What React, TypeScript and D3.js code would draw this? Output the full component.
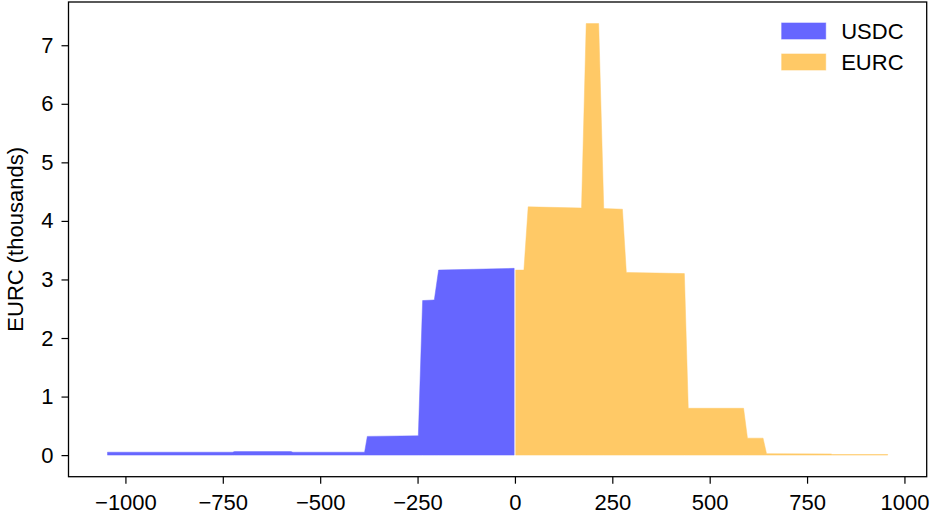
import React, { useEffect, useRef } from "react";
import * as d3 from "d3";

// price offset vs. depth (thousands)
const usdcPrice = [-1046, -725, -720, -575, -570, -386, -379, -248, -237, -207, -196, -2];
const usdcAmount = [0.05, 0.05, 0.06, 0.06, 0.05, 0.05, 0.32, 0.33, 2.64, 2.65, 3.16, 3.19];

const eurcPrice = [2, 23, 34, 171, 183, 215, 228, 276, 286, 435, 445, 587, 597, 637, 646, 811, 815, 957];
const eurcAmount = [3.16, 3.16, 4.24, 4.22, 7.37, 7.37, 4.21, 4.2, 3.12, 3.1, 0.8, 0.8, 0.29, 0.29, 0.025, 0.02, 0.01, 0.01];

const xTicks = [-1000, -750, -500, -250, 0, 250, 500, 750, 1000];
const yTicks = [0, 1, 2, 3, 4, 5, 6, 7];

const seriesNames = ["USDC", "EURC"];
const seriesColors = ["#6666ff", "#ffc966"];

const FONT = "'Liberation Sans', Arial, Helvetica, sans-serif";
const FONT_SIZE = "22px";

const DepthChart: React.FC = () => {
    const svgRef = useRef<SVGSVGElement | null>(null);

    useEffect(() => {
        if (!svgRef.current) return;
        const svg = d3.select(svgRef.current);
        svg.selectAll("*").remove();

        const width = 937;
        const height = 517;
        const margin = { top: 2, right: 10.3, bottom: 40.3, left: 68.5 };
        const innerW = width - margin.left - margin.right;
        const innerH = height - margin.top - margin.bottom;

        const allX = [...usdcPrice, ...eurcPrice];
        const xMin = d3.min(allX) ?? 0;
        const xMax = d3.max(allX) ?? 0;
        const xPad = (xMax - xMin) * 0.05;
        const yMax = d3.max([...usdcAmount, ...eurcAmount]) ?? 0;
        const yPad = yMax * 0.05;

        const x = d3.scaleLinear().domain([xMin - xPad, xMax + xPad]).range([0, innerW]);
        const y = d3.scaleLinear().domain([-yPad, yMax + yPad]).range([innerH, 0]);

        const g = svg
            .attr("width", width)
            .attr("height", height)
            .append("g")
            .attr("transform", `translate(${margin.left},${margin.top})`);

        const area = d3
            .area<[number, number]>()
            .x((d) => x(d[0]))
            .y0(y(0))
            .y1((d) => y(d[1]));

        const usdcData: [number, number][] = usdcPrice.map((p, i) => [p, usdcAmount[i]]);
        const eurcData: [number, number][] = eurcPrice.map((p, i) => [p, eurcAmount[i]]);

        [usdcData, eurcData].forEach((data, i) => {
            g.append("path")
                .datum(data)
                .attr("d", area)
                .attr("fill", seriesColors[i])
                .attr("stroke", seriesColors[i])
                .attr("stroke-opacity", 0.6)
                .attr("stroke-width", 0.8);
        });

        // axes
        const fmt = d3.format("d");
        const xAxis = g
            .append("g")
            .attr("transform", `translate(0,${innerH})`)
            .call(
                d3
                    .axisBottom(x)
                    .tickValues(xTicks)
                    .tickSize(7)
                    .tickPadding(11)
                    .tickFormat((d) => fmt(d as number).replace("-", "\u2212"))
            );
        const yAxis = g
            .append("g")
            .call(d3.axisLeft(y).tickValues(yTicks).tickSize(7).tickPadding(8));

        [xAxis, yAxis].forEach((ax) => {
            ax.select(".domain").remove();
            ax.selectAll("line").attr("stroke", "#000").attr("stroke-width", 1.2);
            ax.selectAll("text")
                .attr("fill", "#000")
                .style("font-family", FONT)
                .style("font-size", FONT_SIZE);
        });

        // frame
        g.append("rect")
            .attr("width", innerW)
            .attr("height", innerH)
            .attr("fill", "none")
            .attr("stroke", "#000")
            .attr("stroke-width", 1.3);

        // y label
        g.append("text")
            .attr("transform", `translate(${-46},${innerH / 2}) rotate(-90)`)
            .attr("text-anchor", "middle")
            .style("font-family", FONT)
            .style("font-size", FONT_SIZE)
            .text("EURC (thousands)");

        // legend
        const legend = g
            .selectAll(".legend")
            .data(seriesNames)
            .enter()
            .append("g")
            .attr("class", "legend")
            .attr("transform", (d, i) => `translate(${innerW - 145},${21 + i * 31})`);

        legend
            .append("rect")
            .attr("width", 44)
            .attr("height", 16)
            .attr("fill", (d, i) => seriesColors[i])
            .attr("stroke", (d, i) => seriesColors[i])
            .attr("stroke-opacity", 0.6);

        legend
            .append("text")
            .attr("x", 59.5)
            .attr("y", 16)
            .style("font-family", FONT)
            .style("font-size", FONT_SIZE)
            .text((d) => d);
    }, []);

    return <svg ref={svgRef} style={{ position: "absolute", left: 0, top: 0 }}></svg>;
};

export default function App() {
    return <DepthChart />;
}
